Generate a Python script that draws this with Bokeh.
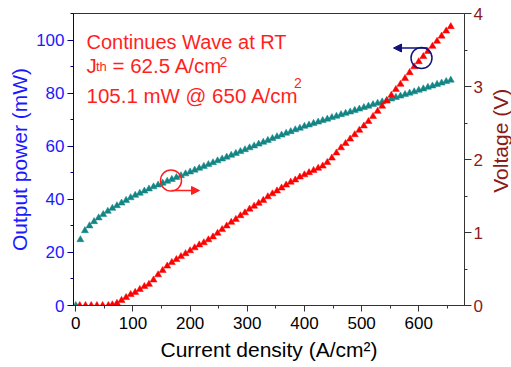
import math
from bokeh.plotting import figure
from bokeh.layouts import row
from bokeh.models import Range1d, LinearAxis, SingleIntervalTicker, Label, Arrow, NormalHead
from bokeh.core.properties import value
from bokeh.embed import file_html
from bokeh.resources import INLINE

# ---------------- data ----------------
current_p = [0, 8, 16, 24, 32, 40, 48, 56, 64, 72, 80, 88, 96, 104, 112, 120, 128, 136, 144, 152,
             160, 168, 176, 184, 192, 200, 208, 216, 224, 232, 240, 248, 256, 264, 272, 280, 288,
             296, 304, 312, 320, 328, 336, 344, 352, 360, 368, 376, 384, 392, 400, 408, 416, 424,
             432, 440, 448, 456, 464, 472, 480, 488, 496, 504, 512, 520, 528, 536, 544, 552, 560,
             568, 576, 584, 592, 600, 608, 616, 624, 632, 640, 648, 656]
power = [0, 24.8, 28.2, 30.0, 31.6, 33.0, 34.3, 35.5, 36.6, 37.6, 38.6,
         39.6, 40.6, 41.5, 42.3, 43.1, 43.9, 44.7, 45.4, 46.1, 46.8,
         47.5, 48.2, 48.9, 49.6, 50.3, 51.0, 51.7, 52.4, 53.1, 53.8,
         54.5, 55.2, 55.9, 56.6, 57.3, 58.0, 58.7, 59.4, 60.1, 60.8,
         61.5, 62.2, 62.9, 63.6, 64.2, 64.9, 65.5, 66.2, 66.8, 67.5,
         68.0, 68.6, 69.1, 69.7, 70.2, 70.8, 71.3, 71.9, 72.4, 72.9,
         73.5, 74.0, 74.6, 75.1, 75.7, 76.2, 76.7, 77.3, 77.8, 78.4,
         78.9, 79.5, 80.0, 80.5, 81.1, 81.6, 82.2, 82.7, 83.3, 83.8,
         84.4, 84.9]

current_v = [7, 17, 27, 37, 47, 57, 64,
             72, 80, 88, 96, 104, 112, 120, 128, 136, 144,
             152, 160, 168, 176, 184, 192, 200, 208, 216, 224,
             232, 240, 248, 256, 264, 272, 280, 288, 296, 304,
             312, 320, 328, 336, 344, 352, 360, 368, 376, 384,
             392, 400, 408, 416, 424, 432, 440, 448, 456, 464,
             472, 480, 488, 496, 504, 512, 520, 528, 536, 544,
             552, 560, 568, 576, 584, 592, 600, 608, 616, 624,
             632, 640, 648, 656]
voltage = [0, 0, 0, 0, 0, 0, 0.01,
           0.03, 0.07, 0.11, 0.15, 0.18, 0.22, 0.26, 0.29, 0.35, 0.42,
           0.48, 0.54, 0.59, 0.63, 0.67, 0.71, 0.75, 0.79, 0.83, 0.86,
           0.90, 0.94, 0.99, 1.04, 1.09, 1.14, 1.18, 1.23, 1.27, 1.32,
           1.36, 1.40, 1.44, 1.49, 1.53, 1.57, 1.61, 1.65, 1.69, 1.72,
           1.76, 1.79, 1.82, 1.85, 1.88, 1.91, 1.96, 2.02, 2.09, 2.16,
           2.22, 2.28, 2.34, 2.40, 2.46, 2.52, 2.59, 2.66, 2.73, 2.80,
           2.88, 2.96, 3.03, 3.11, 3.19, 3.27, 3.34, 3.41, 3.48, 3.55,
           3.62, 3.69, 3.76, 3.82]

x_label = "Current density (A/cm²)"
yl_label = "Output power (mW)"
yr_label = "Voltage (V)"

# ---------------- layout ----------------
W, H = 511, 367
SIDE = 21                 # narrow strip carrying the right-hand axis title
WM = W - SIDE             # main figure width
L, R, T, B = 73, 26, 13, 62
X0, X1 = -4, 680
Y0, Y1 = 0, 110
V0, V1 = 0, 4
FW = WM - L - R
FH = H - T - B

def dx(px):
    return X0 + (px - L) / FW * (X1 - X0)

def dy(py):
    return Y0 + (T + FH - py) / FH * (Y1 - Y0)

FONT = "Liberation Sans"
BLUE = "#1a1aff"
MAROON = "#8b1a1a"
RED = "#ff1f1f"
TEAL = "#138585"
NAVY = "#12127f"

p = figure(width=WM, height=H, x_range=Range1d(X0, X1), y_range=Range1d(Y0, Y1),
           output_backend="svg", toolbar_location=None,
           min_border_left=L, min_border_right=R, min_border_top=T, min_border_bottom=B)
p.extra_y_ranges = {"v": Range1d(V0, V1)}
p.grid.visible = False
p.outline_line_color = "#333333"
p.background_fill_color = "white"
p.border_fill_color = "white"

xa = p.xaxis[0]
xa.ticker = SingleIntervalTicker(interval=100, num_minor_ticks=2)
xa.axis_label = x_label
xa.axis_label_text_font = FONT
xa.axis_label_text_font_size = "21px"
xa.axis_label_text_font_style = "normal"
xa.axis_label_text_color = "black"
xa.axis_label_standoff = 6
xa.major_label_text_font = FONT
xa.major_label_text_font_size = "17px"
xa.major_label_text_color = "black"
xa.major_label_standoff = 5
xa.axis_line_color = "#333333"
xa.major_tick_line_color = "#333333"
xa.minor_tick_line_color = "#333333"
xa.major_tick_out = 6
xa.major_tick_in = 0
xa.minor_tick_out = 3
xa.minor_tick_in = 0

ya = p.yaxis[0]
ya.ticker = SingleIntervalTicker(interval=20, num_minor_ticks=2)
ya.axis_label = yl_label
ya.axis_label_text_font = FONT
ya.axis_label_text_font_size = "21px"
ya.axis_label_text_font_style = "normal"
ya.axis_label_text_color = BLUE
ya.axis_label_standoff = 2
ya.major_label_text_font = FONT
ya.major_label_text_font_size = "17px"
ya.major_label_text_color = BLUE
ya.major_label_standoff = 3
ya.axis_line_color = "#000080"
ya.major_tick_line_color = "#000080"
ya.minor_tick_line_color = "#000080"
ya.major_tick_out = 6
ya.major_tick_in = 0
ya.minor_tick_out = 3
ya.minor_tick_in = 0

ra = LinearAxis(y_range_name="v", ticker=SingleIntervalTicker(interval=1, num_minor_ticks=2))
ra.major_label_text_font = FONT
ra.major_label_text_font_size = "17px"
ra.major_label_text_color = MAROON
ra.major_label_standoff = 2
ra.axis_line_color = "#333333"
ra.major_tick_line_color = "#333333"
ra.minor_tick_line_color = "#333333"
ra.major_tick_out = 7
ra.major_tick_in = 0
ra.minor_tick_out = 3
ra.minor_tick_in = 0
p.add_layout(ra, "right")

# ---------------- series ----------------
p.scatter(current_p, power, marker="triangle", size=7, fill_color=TEAL,
          line_color=TEAL, line_alpha=0.5)
p.scatter(current_v, voltage, marker="triangle", size=7, fill_color="#ff0000",
          line_color="#ff0000", line_alpha=0.5, y_range_name="v")

# ---------------- annotations ----------------
def lab(text, px, py, size, color):
    p.add_layout(Label(x=dx(px), y=dy(py), text=text, text_font=FONT,
                       text_font_size=f"{size}px", text_color=color,
                       text_align="left", text_baseline="alphabetic"))

lab("Continues Wave at RT", 86, 41.5, 20, RED)
lab("J", 86, 65, 20.5, RED)
lab("th", 95.5, 66, 13, RED)
lab("= 62.5 A/cm", 112, 65, 20.5, RED)
lab("2", 219, 61, 14, RED)
lab("105.1 mW @ 650 A/cm", 86, 95, 20.5, RED)
lab("2", 293.5, 82, 14, RED)

# indicator circles and arrows
p.scatter([dx(170.5)], [dy(180)], marker="circle", size=21, fill_color=None,
          line_color=RED, line_width=1.5)
p.add_layout(Arrow(end=NormalHead(size=8, fill_color=RED, line_color=RED),
                   x_start=dx(171), y_start=dy(190), x_end=dx(199), y_end=dy(190),
                   line_color=RED, line_width=1.5))
p.scatter([dx(421)], [dy(57.5)], marker="circle", size=21, fill_color=None,
          line_color=NAVY, line_width=1.5)
p.add_layout(Arrow(end=NormalHead(size=8, fill_color=NAVY, line_color=NAVY),
                   x_start=dx(427), y_start=dy(47.5), x_end=dx(393), y_end=dy(47.5),
                   line_color=NAVY, line_width=1.5))

# ---------------- right-hand axis title strip ----------------
s = figure(width=SIDE, height=H, x_range=Range1d(0, SIDE), y_range=Range1d(0, H),
           output_backend="svg", toolbar_location=None, min_border=0,
           x_axis_location=None, y_axis_location=None)
s.grid.visible = False
s.outline_line_color = None
s.background_fill_color = "white"
s.border_fill_color = "white"
s.text(x=[500 - WM], y=[H - 160], text=[yr_label], angle=math.pi / 2,
       text_font=value(FONT), text_font_size="21px", text_color=MAROON,
       text_align="center", text_baseline="middle")

layout = row(p, s, spacing=0)
open("out.html", "w").write(file_html(layout, INLINE))
